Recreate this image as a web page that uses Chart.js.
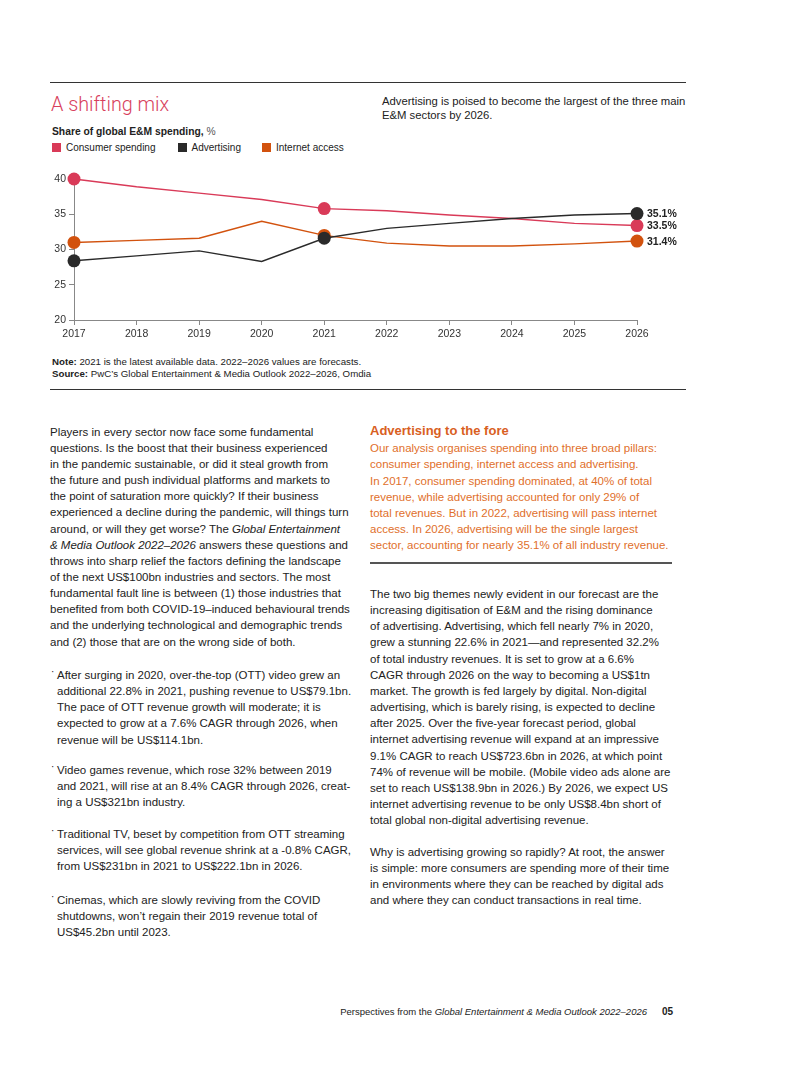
<!DOCTYPE html>
<html>
<head>
<meta charset="utf-8">
<script src="https://cdn.jsdelivr.net/npm/chart.js@4"></script>
<style>
  body { margin: 0; background: #fff; font-family: "Liberation Sans", Arial, sans-serif; color: #222; }
  #page { position: relative; width: 802px; height: 1066px; overflow: hidden; }
  .abs { position: absolute; white-space: nowrap; }
  .rule { position: absolute; background: #333; }
  .body { font-size: 11.5px; line-height: 16.15px; }
  .legend span.sq { display: inline-block; width: 9px; height: 9px; margin-right: 5px; vertical-align: -1px; }
  .bullet { position: absolute; left: -6px; top: -3px; font-size: 10px; }
  .orange { color: #df6f2b; }
</style>
</head>
<body>
<div id="page">
  <div class="rule" style="left:50px; top:82px; width:636px; height:1px;"></div>
  <div class="abs" style="left:51px; top:92px; font-size:19.8px; line-height:26px; color:#d83f5d; font-family:Roboto, 'Liberation Sans'; font-weight:300;">A shifting mix</div>
  <div class="abs" style="left:382px; top:94px; font-size:11.3px; line-height:14px;">Advertising is poised to become the largest of the three main<br>E&amp;M sectors by 2026.</div>
  <div class="abs" style="left:52px; top:125px; font-size:10.3px; line-height:14px;"><b>Share of global E&amp;M spending,</b> <span style="color:#555">%</span></div>
  <div class="abs legend" id="legend" style="left:52px; top:141px; font-size:10px; line-height:14px;"></div>

  <canvas id="grafico" style="position:absolute; left:40px; top:165px;"></canvas>

  <div class="abs" style="left:52px; top:356px; font-size:9.7px; line-height:12px;"><b>Note:</b> 2021 is the latest available data. 2022–2026 values are forecasts.<br><b>Source:</b> PwC’s Global Entertainment &amp; Media Outlook 2022–2026, Omdia</div>
  <div class="rule" style="left:50px; top:389px; width:636px; height:1px;"></div>

  <div class="abs body" style="left:50px; top:423.6px;">Players in every sector now face some fundamental<br>questions. Is the boost that their business experienced<br>in the pandemic sustainable, or did it steal growth from<br>the future and push individual platforms and markets to<br>the point of saturation more quickly? If their business<br>experienced a decline during the pandemic, will things turn<br>around, or will they get worse? The <i>Global Entertainment<br>&amp; Media Outlook 2022–2026</i> answers these questions and<br>throws into sharp relief the factors defining the landscape<br>of the next US$100bn industries and sectors. The most<br>fundamental fault line is between (1) those industries that<br>benefited from both COVID-19–induced behavioural trends<br>and the underlying technological and demographic trends<br>and (2) those that are on the wrong side of both.</div>

  <div class="abs body" style="left:57px; top:667px;"><span class="bullet">·</span>After surging in 2020, over-the-top (OTT) video grew an<br>additional 22.8% in 2021, pushing revenue to US$79.1bn.<br>The pace of OTT revenue growth will moderate; it is<br>expected to grow at a 7.6% CAGR through 2026, when<br>revenue will be US$114.1bn.</div>
  <div class="abs body" style="left:57px; top:762px;"><span class="bullet">·</span>Video games revenue, which rose 32% between 2019<br>and 2021, will rise at an 8.4% CAGR through 2026, creat-<br>ing a US$321bn industry.</div>
  <div class="abs body" style="left:57px; top:826px;"><span class="bullet">·</span>Traditional TV, beset by competition from OTT streaming<br>services, will see global revenue shrink at a -0.8% CAGR,<br>from US$231bn in 2021 to US$222.1bn in 2026.</div>
  <div class="abs body" style="left:57px; top:892px;"><span class="bullet">·</span>Cinemas, which are slowly reviving from the COVID<br>shutdowns, won’t regain their 2019 revenue total of<br>US$45.2bn until 2023.</div>

  <div class="abs" style="left:370px; top:423px; font-size:13px; line-height:16px; font-weight:bold; color:#d9601f;">Advertising to the fore</div>
  <div class="abs body orange" style="left:370px; top:440.2px;">Our analysis organises spending into three broad pillars:<br>consumer spending, internet access and advertising.<br>In 2017, consumer spending dominated, at 40% of total<br>revenue, while advertising accounted for only 29% of<br>total revenues. But in 2022, advertising will pass internet<br>access. In 2026, advertising will be the single largest<br>sector, accounting for nearly 35.1% of all industry revenue.</div>
  <div class="rule" style="left:370px; top:562px; width:302px; height:2px; background:#555;"></div>

  <div class="abs body" style="left:370px; top:586px;">The two big themes newly evident in our forecast are the<br>increasing digitisation of E&amp;M and the rising dominance<br>of advertising. Advertising, which fell nearly 7% in 2020,<br>grew a stunning 22.6% in 2021—and represented 32.2%<br>of total industry revenues. It is set to grow at a 6.6%<br>CAGR through 2026 on the way to becoming a US$1tn<br>market. The growth is fed largely by digital. Non-digital<br>advertising, which is barely rising, is expected to decline<br>after 2025. Over the five-year forecast period, global<br>internet advertising revenue will expand at an impressive<br>9.1% CAGR to reach US$723.6bn in 2026, at which point<br>74% of revenue will be mobile. (Mobile video ads alone are<br>set to reach US$138.9bn in 2026.) By 2026, we expect US<br>internet advertising revenue to be only US$8.4bn short of<br>total global non-digital advertising revenue.</div>
  <div class="abs body" style="left:370px; top:843.6px;">Why is advertising growing so rapidly? At root, the answer<br>is simple: more consumers are spending more of their time<br>in environments where they can be reached by digital ads<br>and where they can conduct transactions in real time.</div>

  <div class="abs" style="right:155px; top:1006px; font-size:9.5px; line-height:12px;">Perspectives from the <i>Global Entertainment &amp; Media Outlook 2022–2026</i></div>
  <div class="abs" style="left:662px; top:1006px; font-size:10px; line-height:12px; font-weight:bold;">05</div>
</div>

<script>
const anos = ['2017', '2018', '2019', '2020', '2021', '2022', '2023', '2024', '2025', '2026'];
const consumo = [40.0, 38.9, 38.0, 37.1, 35.8, 35.5, 34.9, 34.4, 33.7, 33.4];
const publicidade = [28.4, 29.1, 29.8, 28.3, 31.6, 33.0, 33.7, 34.4, 34.9, 35.1];
const internet = [31.0, 31.3, 31.6, 34.0, 32.0, 30.9, 30.5, 30.5, 30.8, 31.2];
const rotulosFinais = ['33.5%', '35.1%', '31.4%'];
const ticksY = [20, 25, 30, 35, 40];

const cores = { consumo: '#d93a58', publicidade: '#2a2a2a', internet: '#d2520e' };
const raioPontos = anos.map(a => (a === '2017' || a === '2021' || a === '2026') ? 6.5 : 0);

document.getElementById('legend').innerHTML = [
    ['Consumer spending', cores.consumo, 0],
    ['Advertising', cores.publicidade, 22],
    ['Internet access', cores.internet, 21]
].map(l => `<span style="margin-left:${l[2]}px"><span class="sq" style="background:${l[1]}"></span>${l[0]}</span>`).join('');

const rotulosPlugin = {
    id: 'rotulos',
    afterDatasetsDraw(chart) {
        const ctx = chart.ctx;
        ctx.save();
        ctx.font = 'bold 10.5px "Liberation Sans", Arial, sans-serif';
        ctx.fillStyle = '#222';
        ctx.textBaseline = 'middle';
        chart.data.datasets.forEach((ds, i) => {
            const meta = chart.getDatasetMeta(i);
            const pt = meta.data[meta.data.length - 1];
            ctx.fillText(rotulosFinais[i], pt.x + 10, pt.y + 1);
        });
        ctx.restore();
    }
};

function serie(label, data, cor, ordem) {
    return {
        label: label,
        data: data,
        borderColor: cor,
        backgroundColor: cor,
        borderWidth: 1.4,
        tension: 0,
        clip: false,
        pointRadius: raioPontos,
        pointBorderWidth: 0,
        pointBackgroundColor: cor,
        order: ordem
    };
}

const ctx = document.getElementById('grafico');
ctx.width = 660;
ctx.height = 180;

new Chart(ctx, {
    type: 'line',
    data: {
        labels: anos,
        datasets: [
            serie('Consumer spending', consumo, cores.consumo, 1),
            serie('Advertising', publicidade, cores.publicidade, 0),
            serie('Internet access', internet, cores.internet, 2)
        ]
    },
    plugins: [rotulosPlugin],
    options: {
        responsive: false,
        animation: false,
        layout: { padding: { top: 14, right: 63, left: 0, bottom: 0 } },
        plugins: { legend: { display: false }, tooltip: { enabled: false } },
        scales: {
            x: {
                afterFit: s => { s.height = 25; },
                grid: { drawOnChartArea: false, drawTicks: true, tickLength: 5, color: '#888' },
                border: { color: '#888', width: 1 },
                ticks: { color: '#333', padding: 3, maxRotation: 0, font: { family: '"Liberation Sans", Arial', size: 10.5 } }
            },
            y: {
                min: 20,
                max: 40,
                afterFit: s => { s.width = 34; },
                afterBuildTicks: s => { s.ticks = ticksY.map(v => ({ value: v })); },
                grid: { drawOnChartArea: false, drawTicks: true, tickLength: 5, color: '#888' },
                border: { color: '#888', width: 1 },
                ticks: { color: '#333', padding: 3, font: { family: '"Liberation Sans", Arial', size: 10.5 } }
            }
        }
    }
});
</script>
</body>
</html>
